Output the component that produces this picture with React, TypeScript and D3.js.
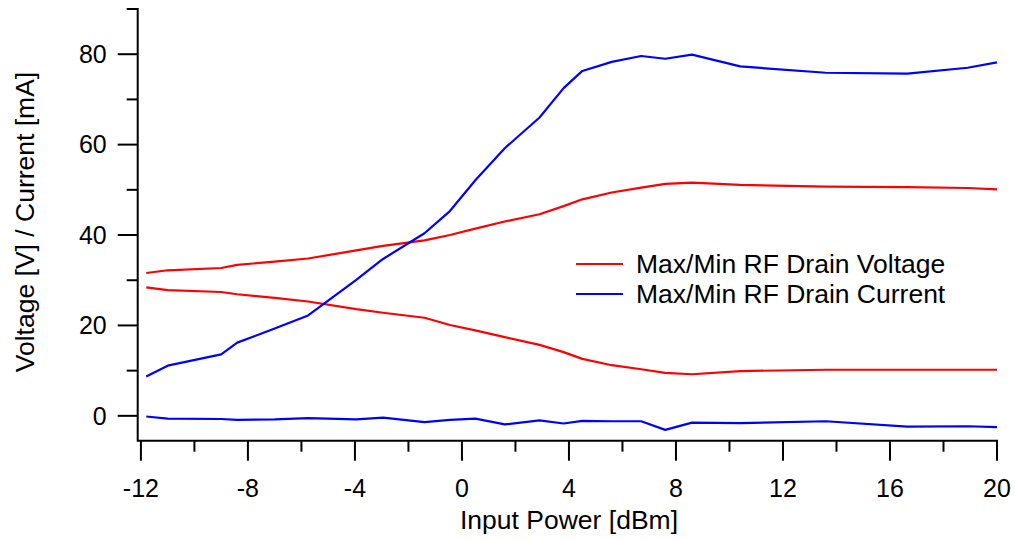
import React from "react";
import * as d3 from "d3";

// Input power sweep (dBm)
const inputPower: number[] = [
  -11.8, -11.0, -9.0, -8.4, -7.0, -5.75, -3.95, -2.95, -1.4, -0.45, 0.5, 1.6,
  2.9, 3.8, 4.5, 5.6, 6.7, 7.6, 8.6, 10.4, 13.6, 16.65, 18.9, 20.0,
];

// Max / Min RF drain voltage [V]
const voltageMax: number[] = [
  31.6, 32.2, 32.7, 33.4, 34.1, 34.8, 36.6, 37.6, 38.8, 40.0, 41.4, 43.0,
  44.6, 46.4, 47.9, 49.4, 50.5, 51.3, 51.6, 51.1, 50.7, 50.6, 50.4, 50.1,
];
const voltageMin: number[] = [
  28.4, 27.8, 27.4, 26.9, 26.1, 25.3, 23.6, 22.8, 21.7, 20.1, 18.9, 17.4,
  15.7, 14.1, 12.6, 11.2, 10.3, 9.5, 9.2, 9.9, 10.2, 10.2, 10.2, 10.2,
];

// Max / Min RF drain current [mA]
const currentMax: number[] = [
  8.7, 11.1, 13.6, 16.2, 19.3, 22.2, 30.1, 34.7, 40.4, 45.3, 52.1, 59.2,
  66.0, 72.5, 76.3, 78.3, 79.6, 79.0, 79.9, 77.3, 75.9, 75.7, 77.0, 78.2,
];
const currentMin: number[] = [
  -0.15, -0.6, -0.7, -0.9, -0.8, -0.5, -0.8, -0.4, -1.4, -0.9, -0.6, -1.9,
  -1.0, -1.7, -1.1, -1.2, -1.2, -3.1, -1.5, -1.6, -1.2, -2.4, -2.3, -2.5,
];

const xMajorTicks: number[] = [-12, -8, -4, 0, 4, 8, 12, 16, 20];
const xMinorTicks: number[] = [-10, -6, -2, 2, 6, 10, 14, 18];
const yMajorTicks: number[] = [0, 20, 40, 60, 80];
const yMinorTicks: number[] = [10, 30, 50, 70, 90];

const legendItems = [
  { label: "Max/Min RF Drain Voltage", color: "#ff0000" },
  { label: "Max/Min RF Drain Current", color: "#0000ff" },
];

const xTitle = "Input Power [dBm]";
const yTitle = "Voltage [V] / Current [mA]";

const W = 1015;
const H = 539;
const FONT = "'Liberation Sans', Arial, Helvetica, sans-serif";

export default function App() {
  const x = d3.scaleLinear().domain([-12.12, 20]).range([137.7, 997]);
  const y = d3.scaleLinear().domain([-5.5, 90]).range([440.7, 9]);

  const line = d3
    .line<[number, number]>()
    .x((d) => x(d[0]))
    .y((d) => y(d[1]));

  const series = [
    { values: voltageMax, color: "#ff0000" },
    { values: voltageMin, color: "#ff0000" },
    { values: currentMax, color: "#0000ff" },
    { values: currentMin, color: "#0000ff" },
  ];

  const x0 = x.range()[0];
  const x1 = x.range()[1];
  const yBottom = y.range()[0];
  const yTop = y(90);

  const majorLen = 20;
  const minorLen = 11;
  const fs = 25;
  const fsTitle = 26.5;

  return (
    <div style={{ position: "fixed", left: 0, top: 0, width: W, height: H, background: "#fff" }}>
      <svg width={W} height={H} style={{ display: "block" }} fontFamily={FONT}>
        <rect width={W} height={H} fill="#fff" />

        {/* data lines */}
        {series.map((s, i) => (
          <path
            key={i}
            d={line(inputPower.map((p, j) => [p, s.values[j]] as [number, number])) || ""}
            fill="none"
            stroke={s.color}
            strokeWidth={2.2}
            strokeLinejoin="round"
          />
        ))}

        {/* axes */}
        <path
          d={`M${x0},${yTop}V${yBottom}H${x1}`}
          fill="none"
          stroke="#000"
          strokeWidth={2}
          strokeLinecap="square"
        />

        {/* y ticks */}
        {yMajorTicks.map((t) => (
          <g key={"ym" + t}>
            <line x1={x0 - majorLen} x2={x0} y1={y(t)} y2={y(t)} stroke="#000" strokeWidth={2} />
            <text
              x={x0 - majorLen - 11}
              y={y(t)}
              dy="0.35em"
              textAnchor="end"
              fontSize={fs}
              fill="#000"
            >
              {t}
            </text>
          </g>
        ))}
        {yMinorTicks.map((t) => (
          <line key={"yn" + t} x1={x0 - minorLen} x2={x0} y1={y(t)} y2={y(t)} stroke="#000" strokeWidth={2} />
        ))}

        {/* x ticks */}
        {xMajorTicks.map((t) => (
          <g key={"xm" + t}>
            <line x1={x(t)} x2={x(t)} y1={yBottom} y2={yBottom + majorLen} stroke="#000" strokeWidth={2} />
            <text x={x(t)} y={497} textAnchor="middle" fontSize={fs} fill="#000">
              {t}
            </text>
          </g>
        ))}
        {xMinorTicks.map((t) => (
          <line key={"xn" + t} x1={x(t)} x2={x(t)} y1={yBottom} y2={yBottom + minorLen} stroke="#000" strokeWidth={2} />
        ))}

        {/* axis titles */}
        <text x={569} y={529} textAnchor="middle" fontSize={fsTitle} fill="#000">
          {xTitle}
        </text>
        <text
          transform={`translate(34,${222}) rotate(-90)`}
          textAnchor="middle"
          fontSize={fsTitle}
          fill="#000"
        >
          {yTitle}
        </text>

        {/* legend */}
        {legendItems.map((it, i) => (
          <g key={it.label} transform={`translate(576,${264 + i * 30})`}>
            <line x1={0} x2={47} y1={0} y2={0} stroke={it.color} strokeWidth={2.2} />
            <text x={60} y={0} dy="0.35em" fontSize={fsTitle} fill="#000">
              {it.label}
            </text>
          </g>
        ))}
      </svg>
    </div>
  );
}
